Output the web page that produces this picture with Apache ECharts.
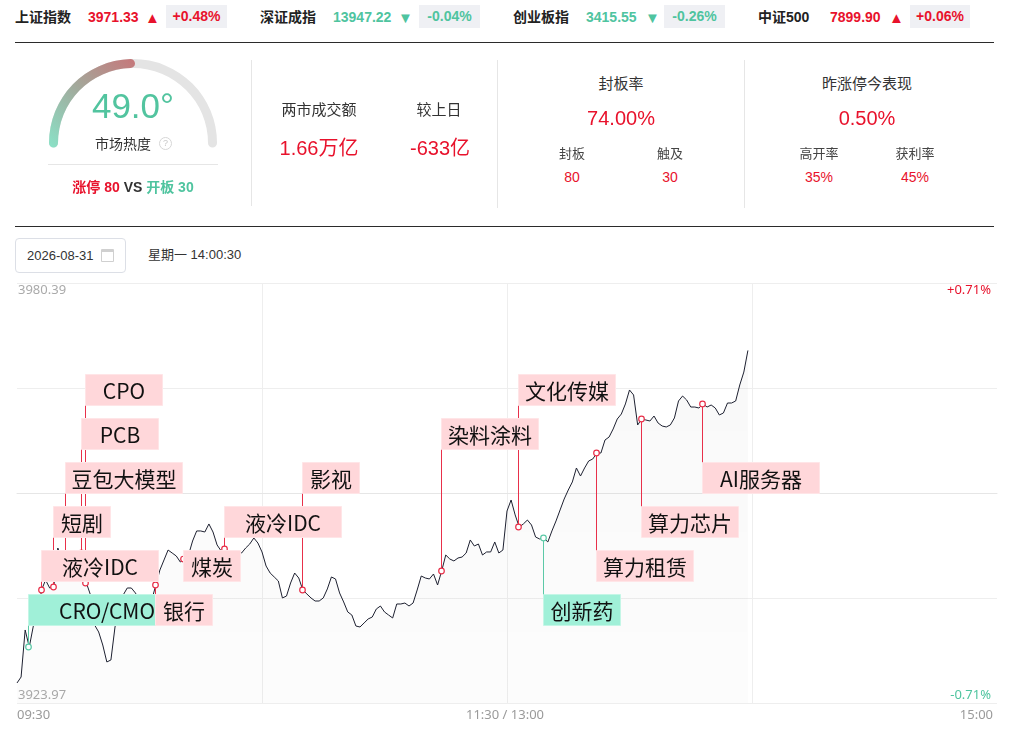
<!DOCTYPE html>
<html><head><meta charset="utf-8">
<script src="https://cdn.jsdelivr.net/npm/echarts@6/dist/echarts.min.js"></script>
<style>
html,body{margin:0;padding:0;}
body{width:1009px;height:734px;background:#fff;position:relative;overflow:hidden;font-family:"Liberation Sans","Noto Sans CJK SC",sans-serif;color:#222;}
.a{position:absolute;white-space:nowrap;line-height:1;transform:translateY(-50%);}
.ct{position:absolute;white-space:nowrap;line-height:1;width:200px;margin-left:-100px;text-align:center;transform:translateY(-50%);}
.b{font-weight:bold;}
.red{color:#e8122c;}
.grn{color:#4fc49f;}
.pill{position:absolute;top:5px;height:23px;line-height:23px;background:#eff0f4;text-align:center;font-weight:bold;font-size:14px;}
.hr{position:absolute;left:15px;width:979px;height:1px;background:#2b2b2b;}
.vr{position:absolute;width:1px;background:#e6e6e6;}
#gauge{position:absolute;left:0;top:44px;width:270px;height:160px;}
#main{position:absolute;left:0;top:270px;width:1009px;height:464px;}
</style></head>
<body>
<!-- top index bar -->
<div class="a b" style="left:15px;top:17px;font-size:14px;">上证指数</div>
<div class="a b red" style="left:88px;top:17px;font-size:14px;">3971.33</div>
<div class="a red" style="left:145px;top:17px;font-size:15px;">▲</div>
<div class="pill red" style="left:166px;width:61px;">+0.48%</div>

<div class="a b" style="left:260px;top:17px;font-size:14px;">深证成指</div>
<div class="a b grn" style="left:333px;top:17px;font-size:14px;">13947.22</div>
<div class="a grn" style="left:398px;top:17px;font-size:15px;">▼</div>
<div class="pill grn" style="left:419px;width:61px;">-0.04%</div>

<div class="a b" style="left:513px;top:17px;font-size:14px;">创业板指</div>
<div class="a b grn" style="left:586px;top:17px;font-size:14px;">3415.55</div>
<div class="a grn" style="left:645px;top:17px;font-size:15px;">▼</div>
<div class="pill grn" style="left:664px;width:61px;">-0.26%</div>

<div class="a b" style="left:758px;top:17px;font-size:14px;">中证500</div>
<div class="a b red" style="left:830px;top:17px;font-size:14px;">7899.90</div>
<div class="a red" style="left:889px;top:17px;font-size:15px;">▲</div>
<div class="pill red" style="left:910px;width:60px;">+0.06%</div>

<div class="hr" style="top:42px;"></div>

<!-- gauge panel -->
<div id="gauge"></div>
<div class="ct" style="left:123px;top:144px;font-size:14px;color:#333;">市场热度</div>
<div style="position:absolute;left:159px;top:137px;width:11px;height:11px;border:1px solid #d6d6d6;border-radius:50%;color:#c8c8c8;font-size:9px;line-height:11px;text-align:center;">?</div>
<div style="position:absolute;left:48px;top:164px;width:170px;height:1px;background:#e6e6e6;"></div>
<div class="ct b" style="left:133px;top:187px;font-size:14px;"><span class="red">涨停 80</span> <span style="color:#333">VS</span> <span class="grn">开板 30</span></div>

<div class="vr" style="left:251px;top:60px;height:146px;"></div>
<div class="vr" style="left:497px;top:60px;height:148px;"></div>
<div class="vr" style="left:744px;top:60px;height:148px;"></div>

<!-- turnover panel -->
<div class="ct" style="left:319px;top:109px;font-size:15px;color:#333;">两市成交额</div>
<div class="ct" style="left:439px;top:109px;font-size:15px;color:#333;">较上日</div>
<div class="ct red" style="left:319px;top:148px;font-size:20px;">1.66万亿</div>
<div class="ct red" style="left:440px;top:148px;font-size:20px;">-633亿</div>

<!-- seal rate panel -->
<div class="ct" style="left:621px;top:83px;font-size:15px;color:#333;">封板率</div>
<div class="ct red" style="left:621px;top:118px;font-size:20px;">74.00%</div>
<div class="ct" style="left:572px;top:153px;font-size:13px;color:#444;">封板</div>
<div class="ct" style="left:670px;top:153px;font-size:13px;color:#444;">触及</div>
<div class="ct red" style="left:572px;top:177px;font-size:14px;">80</div>
<div class="ct red" style="left:670px;top:177px;font-size:14px;">30</div>

<!-- yesterday limit-up panel -->
<div class="ct" style="left:867px;top:83px;font-size:15px;color:#333;">昨涨停今表现</div>
<div class="ct red" style="left:867px;top:118px;font-size:20px;">0.50%</div>
<div class="ct" style="left:819px;top:153px;font-size:13px;color:#444;">高开率</div>
<div class="ct" style="left:915px;top:153px;font-size:13px;color:#444;">获利率</div>
<div class="ct red" style="left:819px;top:177px;font-size:14px;">35%</div>
<div class="ct red" style="left:915px;top:177px;font-size:14px;">45%</div>

<div class="hr" style="top:226px;"></div>

<!-- date picker -->
<div style="position:absolute;left:15px;top:238px;width:109px;height:33px;border:1px solid #dcdfe6;border-radius:4px;"></div>
<div class="a" style="left:27px;top:255px;font-size:13px;color:#333;">2026-08-31</div>
<div style="position:absolute;left:101px;top:249px;width:11px;height:9px;border:1px solid #d0d0d0;border-top-width:3px;border-radius:1px;"></div>
<div class="a" style="left:148px;top:254px;font-size:13px;color:#333;">星期一 14:00:30</div>

<div id="main"></div>

<script>
// ---------- data ----------
const HEAT = 49.0;
const PREV_CLOSE = 3952.18;
const Y_TICK_LABELS = [3923.97, 3980.39];
const TIME_TICKS = [0, 120, 240];
const TIME_LABELS = ['09:30', '11:30 / 13:00', '15:00'];
const PRICES = [
3926.66,3927.46,3933.78,3931.49,3934.31,3935.12,3939.15,3940.49,3939.42,3939.55,
3944.79,3943.18,3941.84,3942.51,3941.57,3943.18,3944.12,3940.09,3938.48,3934.45,
3933.51,3931.76,3929.48,3929.75,3934.18,3936.46,3938.48,3939.42,3939.42,3938.75,
3937.81,3937.14,3938.08,3937.81,3939.82,3941.84,3943.18,3944.52,3944.12,3943.72,
3942.91,3943.31,3943.85,3945.73,3947.08,3947.08,3946.94,3948.02,3946.94,3945.20,
3944.39,3944.66,3944.12,3944.12,3944.26,3944.12,3944.79,3945.33,3946.14,3945.46,
3944.26,3942.37,3941.43,3940.90,3940.36,3938.08,3938.34,3940.09,3941.43,3940.76,
3939.15,3938.61,3938.08,3937.67,3937.67,3938.08,3939.29,3940.90,3940.63,3938.75,
3937.54,3936.20,3935.79,3934.31,3934.18,3934.72,3935.26,3935.52,3936.60,3937.00,
3936.20,3935.79,3935.39,3937.27,3937.27,3937.40,3937.00,3937.40,3939.15,3941.03,
3940.76,3940.63,3941.30,3939.82,3941.70,3943.85,3943.31,3943.05,3943.45,3943.58,
3944.12,3945.87,3945.06,3945.33,3943.85,3944.26,3944.26,3945.60,3944.12,3944.52,
3949.76,3951.24,3949.23,3947.61,3948.02,3948.55,3947.88,3946.27,3946.00,3946.14,
3945.60,3947.08,3948.42,3949.90,3951.37,3952.58,3953.66,3955.54,3954.46,3955.54,
3956.48,3956.75,3957.55,3957.55,3959.30,3959.70,3960.78,3962.12,3962.79,3964.14,
3966.02,3965.35,3961.32,3962.12,3961.99,3961.85,3962.52,3961.58,3961.18,3961.05,
3961.32,3962.26,3964.54,3965.21,3964.67,3963.73,3963.73,3963.60,3964.14,3963.73,
3964.00,3963.60,3962.66,3962.93,3964.27,3964.27,3964.54,3966.69,3968.43,3971.33
];
const EVENT_NAMES = ['CRO/CMO','液冷IDC','短剧','豆包大模型','PCB','CPO','银行','煤炭','液冷IDC','影视','染料涂料','文化传媒','创新药','算力租赁','算力芯片','AI服务器'];
const EVENT_MINUTES = [3,6,9,12,16,17,34,41,51,70,104,123,129,142,153,168];
const EVENT_TYPES = ['down','up','up','up','up','up','up','up','up','up','up','up','down','up','up','up'];

// ---------- styles / layout ----------
const RED = '#e8122c', GREEN = '#4fc49f';
const LINE_RED = '#e8304a', LINE_GREEN = '#5cc9a7';
const BOX_RED = '#ffd7da', BOX_GREEN = '#a0f0d8';
const BOX_RED_EDGE = '#ffe5e7', BOX_GREEN_EDGE = '#c4f6e6';
const ROW_TOP = 91, ROW_GAP = 44, BOX_H = 32, CHAR_W = 20, BOX_PAD = 18;

const HALF = Y_TICK_LABELS[1] - PREV_CLOSE;
const Y_INTERVAL = HALF / 2;

// ---------- gauge ----------
const gauge = echarts.init(document.getElementById('gauge'));
gauge.setOption({
  animation: false,
  series: [{
    type: 'gauge', startAngle: 180, endAngle: 0, min: 0, max: 100,
    center: [133, 99], radius: 84,
    progress: { show: true, width: 9, roundCap: true,
      itemStyle: { color: new echarts.graphic.LinearGradient(0, 1, 1, 0, [
        { offset: 0, color: '#8ae2c7' }, { offset: 0.5, color: '#a2aa9c' }, { offset: 1, color: '#c6777a' }]) } },
    axisLine: { roundCap: true, lineStyle: { width: 9, color: [[1, '#e4e4e4']] } },
    pointer: { show: false }, axisTick: { show: false }, splitLine: { show: false },
    axisLabel: { show: false }, title: { show: false }, anchor: { show: false },
    detail: { offsetCenter: [0, -35], fontSize: 35, fontFamily: 'Liberation Sans', fontWeight: 'normal',
      color: '#52c49f', formatter: v => v.toFixed(1) + '°' },
    data: [{ value: HEAT }]
  }]
});

// ---------- main chart ----------
const chart = echarts.init(document.getElementById('main'));
const lineData = PRICES.map((p, i) => [i, p - PREV_CLOSE]);
const eventData = EVENT_MINUTES.map((m, k) => [m, PRICES[m] - PREV_CLOSE, k]);

function eventGeom(params, api) {
  const k = api.value(2);
  const pt = api.coord([api.value(0), api.value(1)]);
  const row = 5 - (k % 6);
  const top = params.coordSys.y + ROW_TOP + ROW_GAP * row;
  const x = Math.round(pt[0]) - 0.5;
  return { k, pt, x, top, up: EVENT_TYPES[k] === 'up' };
}
function renderConnector(params, api) {
  const g = eventGeom(params, api);
  const col = g.up ? LINE_RED : LINE_GREEN;
  return { type: 'group', children: [
    { type: 'line', shape: { x1: g.x, y1: g.pt[1], x2: g.x, y2: g.top + BOX_H / 2 }, style: { stroke: col, lineWidth: 1 } },
    { type: 'circle', shape: { cx: g.x, cy: g.pt[1], r: 2.8 }, style: { fill: '#fff', stroke: col, lineWidth: 1.2 } }
  ]};
}
function renderBox(params, api) {
  const g = eventGeom(params, api);
  const name = EVENT_NAMES[g.k];
  const w = name.length * CHAR_W + BOX_PAD;
  const x0 = g.x - 0.5;
  return { type: 'group', children: [
    { type: 'rect', shape: { x: x0 + 0.5, y: g.top + 0.5, width: w - 1, height: BOX_H - 1 },
      style: { fill: g.up ? BOX_RED : BOX_GREEN, stroke: g.up ? BOX_RED_EDGE : BOX_GREEN_EDGE, lineWidth: 1 } },
    { type: 'text', style: { text: name, x: x0 + w / 2, y: g.top + BOX_H / 2 + 1, align: 'center', verticalAlign: 'middle',
      fontSize: 21, fontFamily: '"Noto Sans CJK SC"', fill: '#111' } }
  ]};
}

const isExtreme = v => Math.abs(Math.abs(v) - HALF) < 1e-6;

chart.setOption({
  animation: false,
  grid: { left: 17, right: 12, top: 13, bottom: 31 },
  xAxis: {
    type: 'value', min: 0, max: 240, interval: 60,
    axisLine: { show: true, lineStyle: { color: '#e6e6e6' } },
    axisTick: { show: false },
    splitLine: { show: true, showMinLine: false, showMaxLine: false, lineStyle: { color: '#eeeeee' } },
    axisLabel: {
      color: '#9a9a9a', fontSize: 13, margin: 6, fontFamily: '"Noto Sans"',
      alignMinLabel: 'left', alignMaxLabel: 'right', padding: [0, 4, 0, 0],
      formatter: v => { const i = TIME_TICKS.indexOf(v); return i >= 0 ? TIME_LABELS[i] : ''; }
    }
  },
  yAxis: [{
    type: 'value', min: -HALF, max: HALF, interval: Y_INTERVAL,
    axisLine: { show: false }, axisTick: { show: false },
    splitLine: { show: true, lineStyle: { color: '#eeeeee' } },
    axisLabel: {
      inside: true, margin: 1, color: '#aaaaaa', fontSize: 13, fontFamily: '"Noto Sans"',
      verticalAlignMinLabel: 'bottom', verticalAlignMaxLabel: 'top', padding: [1, 0, 1, 0],
      formatter: v => isExtreme(v) ? (v + PREV_CLOSE).toFixed(2) : ''
    }
  }, {
    type: 'value', position: 'right', min: -HALF, max: HALF, interval: Y_INTERVAL,
    axisLine: { show: false }, axisTick: { show: false }, splitLine: { show: false },
    axisLabel: {
      inside: true, margin: 6, fontSize: 13, fontFamily: '"Noto Sans"',
      verticalAlignMinLabel: 'bottom', verticalAlignMaxLabel: 'top', padding: [1, 0, 1, 0],
      color: v => (v > 0 ? RED : GREEN),
      formatter: v => isExtreme(v) ? ((v > 0 ? '+' : '') + (v / PREV_CLOSE * 100).toFixed(2) + '%') : ''
    }
  }],
  series: [{
    type: 'line', data: lineData, showSymbol: false, symbol: 'none', z: 2,
    lineStyle: { color: '#1d2030', width: 1 },
    areaStyle: { origin: 'start', color: new echarts.graphic.LinearGradient(0, 0, 0, 1, [
      { offset: 0, color: 'rgba(0,0,0,0.035)' }, { offset: 1, color: 'rgba(0,0,0,0.015)' }]) }
  }, {
    type: 'custom', data: eventData, encode: { x: 0, y: 1 }, z: 3, renderItem: renderConnector
  }, {
    type: 'custom', data: eventData, encode: { x: 0, y: 1 }, z: 4, renderItem: renderBox
  }]
});
</script>
</body></html>
